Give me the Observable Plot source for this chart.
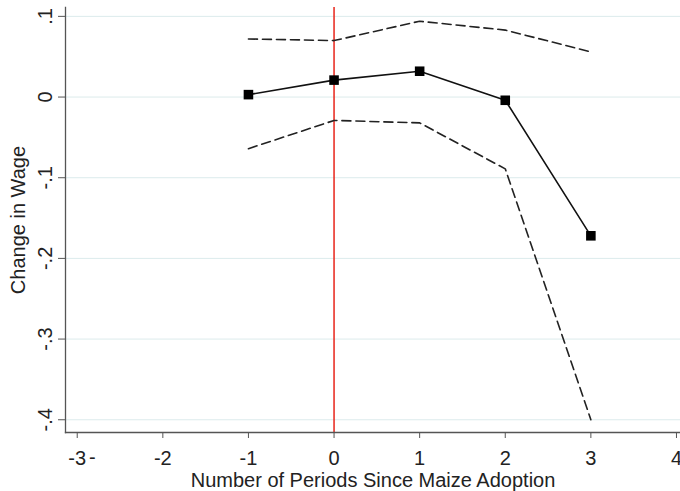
<!DOCTYPE html>
<html><head><meta charset="utf-8">
<script src="https://cdn.jsdelivr.net/npm/d3@7"></script>
<script src="https://cdn.jsdelivr.net/npm/@observablehq/plot@0.6"></script>
<style>body{margin:0;background:#fff} svg{display:block}</style>
</head><body><div id="chart"></div>
<script>
const periods = [-1, 0, 1, 2, 3];
const estimate = [0.003, 0.021, 0.032, -0.004, -0.172];
const upper = [0.072, 0.070, 0.094, 0.083, 0.056];
const lower = [-0.064, -0.029, -0.032, -0.089, -0.400];
const xTicks = [-3, -2, -1, 0, 1, 2, 3, 4];
const xTickLabels = ["-3", "-2", "-1", "0", "1", "2", "3", "4"];
const yTicks = [0.1, 0, -0.1, -0.2, -0.3, -0.4];
const yTickLabels = [".1", "0", "-.1", "-.2", "-.3", "-.4"];
const xTitle = "Number of Periods Since Maize Adoption";
const yTitle = "Change in Wage";

const est = periods.map((p, i) => ({x: p, y: estimate[i]}));
const up = periods.map((p, i) => ({x: p, y: upper[i]}));
const lo = periods.map((p, i) => ({x: p, y: lower[i]}));

const axisColor = "#555";
const plot = Plot.plot({
  width: 680, height: 491,
  marginLeft: 65, marginRight: 0, marginTop: 7, marginBottom: 59,
  style: {fontFamily: "'Liberation Sans', Arial, sans-serif", fontSize: "20px", color: "#222", background: "#fff"},
  x: {domain: [-3.137, 4.047], axis: null},
  y: {domain: [-0.4158, 0.111], axis: null},
  marks: [
    Plot.gridY(yTicks, {stroke: "#dcebec", strokeOpacity: 1, strokeWidth: 1}),
    Plot.ruleX([0], {stroke: "#e8241a", strokeWidth: 1.5}),
    Plot.line(up, {x: "x", y: "y", stroke: "#222", strokeWidth: 1.6, strokeDasharray: "9,5"}),
    Plot.line(lo, {x: "x", y: "y", stroke: "#222", strokeWidth: 1.6, strokeDasharray: "9,5"}),
    Plot.line(est, {x: "x", y: "y", stroke: "#111", strokeWidth: 1.6}),
    Plot.dot(est, {x: "x", y: "y", symbol: "square", r: 5.4, fill: "#000", stroke: "none"}),
    Plot.frame({anchor: "left", stroke: axisColor, strokeWidth: 1.3}),
    Plot.frame({anchor: "bottom", stroke: axisColor, strokeWidth: 1.3}),
    Plot.axisY(yTicks, {tickSize: 7, tickFormat: () => "", stroke: axisColor, label: null}),
    Plot.text(yTicks, {y: d => d, text: (d, i) => yTickLabels[i], frameAnchor: "left", rotate: -90,
      dx: -14, lineAnchor: "bottom", textAnchor: "middle", fontSize: 20, fill: "#222"}),
    Plot.axisX(xTicks, {tickSize: 6, tickPadding: 12, fontSize: 20, stroke: axisColor, fill: "#222",
      tickFormat: d => xTickLabels[xTicks.indexOf(d)], label: null}),
    Plot.text([xTicks[0]], {x: d => d, text: () => "-", frameAnchor: "bottom", dx: 15, dy: 31, fontSize: 20, fill: "#222"}),
    Plot.text([xTitle], {text: d => d, frameAnchor: "bottom", dy: 48, lineAnchor: "middle", fontSize: 20, fill: "#222"}),
    Plot.text([yTitle], {text: d => d, frameAnchor: "left", rotate: -90, dx: -41, lineAnchor: "bottom",
      textAnchor: "middle", fontSize: 20, fill: "#222"})
  ]
});
document.getElementById("chart").appendChild(plot);
</script>
</body></html>
